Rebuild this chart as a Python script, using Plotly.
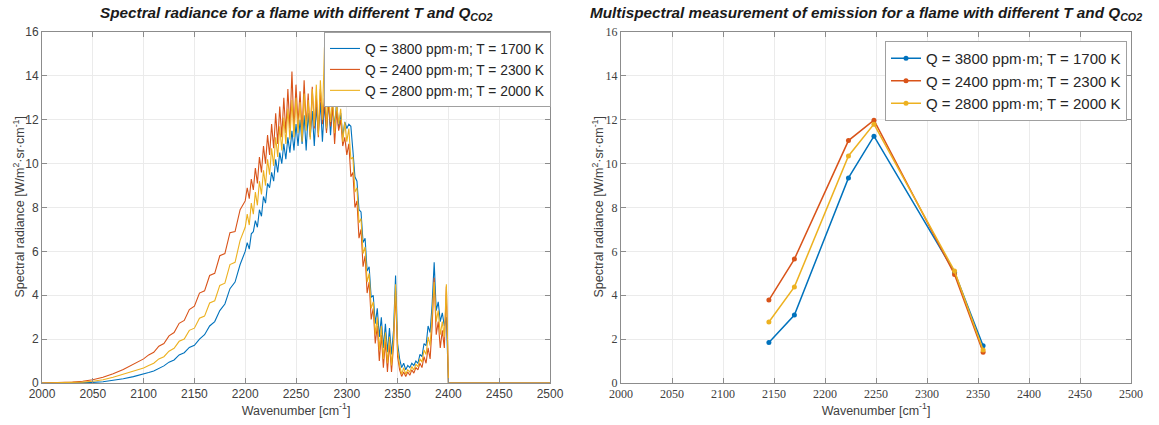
import plotly.graph_objects as go

# ---------------- data: left panel (spectral radiance) ----------------
wn_low = [2000, 2010, 2020, 2030, 2040, 2050, 2060, 2070, 2080, 2090]
wn_mid = [2100, 2105, 2110, 2115, 2120, 2125, 2130, 2135, 2140, 2145,
          2150, 2155, 2160, 2165, 2170, 2175, 2180, 2185, 2190, 2195]
wn_high = list(range(2200, 2401, 2))
wn_tail = [2401, 2500]
wavenumber = wn_low + wn_mid + wn_high + wn_tail

blue_low = [0, 0.001, 0.003, 0.007, 0.015, 0.03, 0.06, 0.11, 0.19, 0.29]
blue_mid = [0.4, 0.48, 0.55, 0.68, 0.78, 0.95, 1.05, 1.28, 1.38, 1.62,
            1.72, 2.0, 2.2, 2.6, 2.8, 3.3, 3.6, 4.3, 4.6, 5.4]
blue_high = [6.0, 6.4, 6.1, 6.8, 6.9, 7.4, 7.1, 7.9, 7.6, 8.5,
             8.2, 9.1, 8.9, 9.6, 9.2, 10.2, 9.6, 10.5, 10.0, 10.9,
             10.2, 11.2, 10.5, 11.5, 10.6, 11.8, 10.8, 12.0, 10.9, 12.2,
             10.6, 12.3, 11.2, 12.4, 10.8, 12.6, 11.4, 12.8, 11.0, 12.7,
             11.5, 12.9, 11.3, 12.6, 11.7, 12.8, 11.6, 12.3, 11.2, 11.9,
             11.6, 11.8, 11.7, 10.6, 9.4, 9.2, 7.9, 7.8, 6.4, 6.6,
             5.1, 5.3, 3.9, 4.0, 2.7, 3.4, 2.1, 3.0, 1.6, 2.7,
             1.4, 2.5, 1.3, 2.4, 4.9, 1.8, 1.1, 0.7, 0.9, 0.6,
             0.8, 0.7, 0.9, 0.8, 1.0, 0.9, 1.3, 1.2, 1.8, 1.7,
             2.6, 2.3, 3.6, 5.5, 3.3, 3.7, 2.8, 3.2, 2.6, 3.0,
             0.0]
blue_tail = [0, 0]

red_low = [0, 0.005, 0.015, 0.04, 0.08, 0.15, 0.26, 0.42, 0.62, 0.85]
red_mid = [1.1, 1.28, 1.4, 1.68, 1.8, 2.15, 2.3, 2.72, 2.85, 3.35,
           3.5, 4.1, 4.2, 4.9, 5.0, 5.8, 5.9, 6.85, 6.9, 7.9]
red_high = [8.3, 8.9, 8.4, 9.3, 8.8, 9.8, 9.1, 10.3, 9.6, 10.8,
            10.0, 11.3, 10.4, 11.8, 10.7, 12.3, 10.9, 12.6, 11.2, 13.0,
            11.4, 13.4, 11.6, 14.2, 11.5, 13.6, 11.8, 13.3, 11.4, 13.8,
            11.7, 13.2, 11.3, 13.5, 11.6, 13.1, 11.2, 13.4, 11.8, 13.0,
            11.4, 12.8, 11.7, 12.6, 10.9, 12.4, 11.5, 12.0, 10.8, 11.2,
            10.4, 10.9, 9.4, 9.6, 8.0, 8.3, 6.6, 7.0, 5.3, 5.8,
            4.1, 4.6, 2.9, 3.4, 1.8, 2.6, 1.0, 2.2, 0.7, 1.9,
            0.5, 1.8, 0.5, 1.7, 4.2, 1.2, 0.6, 0.3, 0.5, 0.3,
            0.5, 0.35, 0.6, 0.45, 0.7, 0.6, 0.9, 0.7, 1.2, 0.9,
            1.6, 1.1, 2.6, 4.8, 2.2, 2.8, 1.6, 2.4, 1.6, 4.4,
            0.0]
red_tail = [0, 0]

yellow_low = [0, 0.002, 0.007, 0.02, 0.04, 0.08, 0.15, 0.26, 0.4, 0.53]
yellow_mid = [0.68, 0.8, 0.9, 1.1, 1.2, 1.45, 1.58, 1.9, 2.0, 2.4,
              2.5, 2.95, 3.05, 3.65, 3.75, 4.45, 4.55, 5.4, 5.5, 6.5]
yellow_high = [7.1, 7.7, 7.2, 8.2, 7.7, 8.7, 8.1, 9.2, 8.6, 9.7,
               9.0, 10.2, 9.5, 10.7, 9.9, 11.2, 10.3, 11.7, 10.6, 12.1,
               10.9, 12.5, 11.1, 12.9, 11.2, 13.0, 11.4, 12.8, 11.0, 13.2,
               11.5, 12.9, 11.1, 13.4, 11.7, 13.6, 11.3, 13.8, 12.0, 15.3,
               11.6, 13.3, 11.9, 13.0, 11.4, 12.8, 11.8, 12.5, 11.0, 11.9,
               11.0, 11.6, 10.2, 10.3, 8.7, 8.9, 7.3, 7.5, 5.9, 6.2,
               4.6, 5.0, 3.4, 3.7, 2.2, 3.0, 1.5, 2.6, 1.1, 2.3,
               0.9, 2.1, 0.8, 2.0, 4.5, 1.5, 0.8, 0.4, 0.7, 0.4,
               0.6, 0.5, 0.75, 0.6, 0.85, 0.75, 1.1, 0.95, 1.5, 1.3,
               2.1, 1.7, 3.1, 4.6, 2.8, 3.3, 2.2, 2.8, 2.1, 4.5,
               0.0]
yellow_tail = [0, 0]

blue_spec = blue_low + blue_mid + blue_high + blue_tail
red_spec = red_low + red_mid + red_high + red_tail
yellow_spec = yellow_low + yellow_mid + yellow_high + yellow_tail

# ---------------- data: right panel (multispectral) ----------------
band_centers = [2145, 2170, 2223, 2248, 2327, 2355]
blue_multi = [1.85, 3.1, 9.35, 11.25, 5.05, 1.7]
red_multi = [3.78, 5.65, 11.05, 11.98, 4.95, 1.4]
yellow_multi = [2.78, 4.38, 10.35, 11.8, 5.1, 1.5]

series_names = ["Q = 3800 ppm·m; T = 1700 K",
                "Q = 2400 ppm·m; T = 2300 K",
                "Q = 2800 ppm·m; T = 2000 K"]
colors = ["#0072BD", "#D95319", "#EDB120"]

x_ticks = list(range(2000, 2501, 50))
y_ticks = list(range(0, 17, 2))

# ---------------- figure ----------------
fig = go.Figure()

spec_data = [blue_spec, red_spec, yellow_spec]
for name, col, ys in zip(series_names, colors, spec_data):
    fig.add_trace(go.Scatter(x=wavenumber, y=ys, mode="lines", name=name,
                             line=dict(color=col, width=1.1),
                             xaxis="x", yaxis="y", legend="legend"))

multi_data = [blue_multi, red_multi, yellow_multi]
for name, col, ys in zip(series_names, colors, multi_data):
    fig.add_trace(go.Scatter(x=band_centers, y=ys, mode="lines+markers", name=name,
                             line=dict(color=col, width=1.5),
                             marker=dict(color=col, size=5),
                             xaxis="x2", yaxis="y2", legend="legend2"))

H = 425
W = 1159
left_dom = [42 / W, 550 / W]
right_dom = [621 / W, 1131 / W]
y_dom = [(H - 383) / H, (H - 32) / H]

sans = "Liberation Sans, Arial, sans-serif"
serif = "Liberation Serif, Times New Roman, serif"


def axis_common(domain, tickfont_family, anchor, title_text):
    d = dict(
        domain=domain, anchor=anchor, automargin=False,
        showline=True, linecolor="#8c8c8c", linewidth=1, mirror="allticks",
        ticks="inside", ticklen=5, tickcolor="#8c8c8c",
        showgrid=True, gridcolor="#ebebeb", gridwidth=1,
        zeroline=False,
        tickfont=dict(family=tickfont_family, size=12, color="#404040"),
    )
    if title_text:
        d["title"] = dict(text=title_text, font=dict(family=sans, size=12.5, color="#404040"),
                          standoff=2)
    return d


xt_title = "Wavenumber [cm<sup>-1</sup>]"
yt_title = "Spectral radiance [W/m<sup>2</sup>·sr·cm<sup>-1</sup>]"

xa1 = axis_common(left_dom, sans, "y", xt_title)
xa1.update(range=[2000, 2500], tickvals=x_ticks)
ya1 = axis_common(y_dom, sans, "x", None)
ya1.update(range=[0, 16], tickvals=y_ticks)
xa2 = axis_common(right_dom, serif, "y2", xt_title)
xa2.update(range=[2000, 2500], tickvals=x_ticks)
ya2 = axis_common(y_dom, serif, "x2", None)
ya2.update(range=[0, 16], tickvals=y_ticks)

y_mid = (y_dom[0] + y_dom[1]) / 2

fig.update_layout(
    width=W, height=H,
    paper_bgcolor="white", plot_bgcolor="white",
    margin=dict(l=0, r=0, t=0, b=0, autoexpand=False),
    xaxis=xa1, yaxis=ya1, xaxis2=xa2, yaxis2=ya2,
    showlegend=True,
    legend=dict(x=551 / W, y=(H - 32) / H, xanchor="right", yanchor="top",
                bgcolor="white", bordercolor="#a0a0a0", borderwidth=1,
                font=dict(family=sans, size=13.8, color="#262626"),
                tracegroupgap=0, itemwidth=30),
    legend2=dict(x=1127 / W, y=(H - 41) / H, xanchor="right", yanchor="top",
                 bgcolor="white", bordercolor="#a0a0a0", borderwidth=1,
                 font=dict(family=sans, size=15, color="#262626"),
                 tracegroupgap=0, itemwidth=30),
    annotations=[
        dict(text="<b><i>Spectral radiance for a flame with different T and Q<sub>CO2</sub></i></b>",
             x=(42 + 550) / 2 / W, y=(H - 13) / H, xref="paper", yref="paper",
             xanchor="center", yanchor="middle", showarrow=False,
             font=dict(family=sans, size=15.3, color="#1a1a1a")),
        dict(text="<b><i>Multispectral measurement of emission for a flame with different T and Q<sub>CO2</sub></i></b>",
             x=866 / W, y=(H - 13) / H, xref="paper", yref="paper",
             xanchor="center", yanchor="middle", showarrow=False,
             font=dict(family=sans, size=15.3, color="#1a1a1a")),
        dict(text=yt_title, x=18 / W, y=y_mid, xref="paper", yref="paper",
             xanchor="center", yanchor="middle", textangle=-90, showarrow=False,
             font=dict(family=sans, size=12.5, color="#404040")),
        dict(text=yt_title, x=597 / W, y=y_mid, xref="paper", yref="paper",
             xanchor="center", yanchor="middle", textangle=-90, showarrow=False,
             font=dict(family=sans, size=12.5, color="#404040")),
    ],
)

fig.write_html("out.html", config={"displayModeBar": False},
               post_script="document.body.style.margin='0';document.body.style.padding='0';")
